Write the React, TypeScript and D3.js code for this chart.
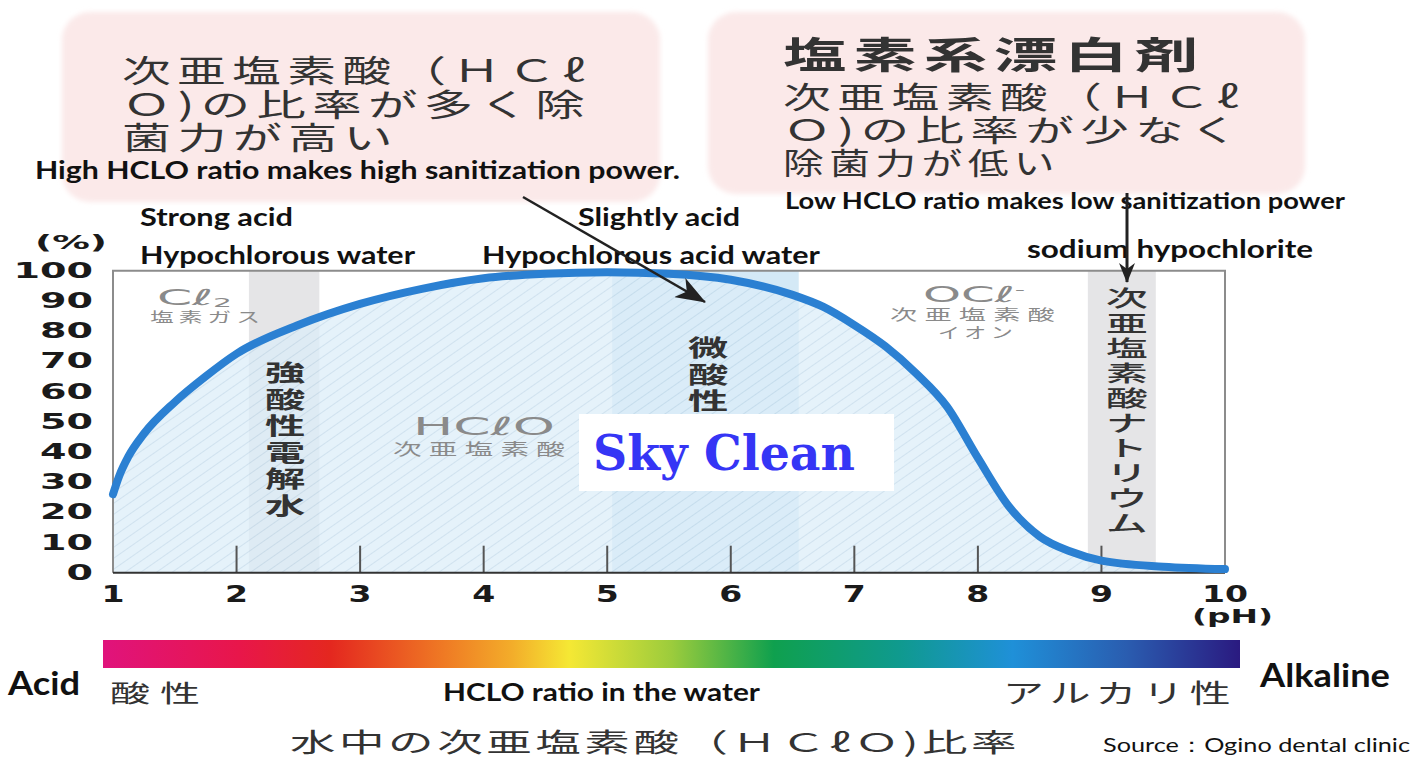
import React from 'react';
import * as d3 from 'd3';

// ---- data ----
const phValues = [1, 1.05, 1.125, 1.25, 1.5, 1.75, 2, 2.5, 3, 3.5, 4, 4.5, 5, 5.5, 6, 6.5, 6.75, 7, 7.25, 7.5, 7.75, 8, 8.25, 8.5, 8.75, 9, 9.5, 10];
const hcloRatio = [26, 32, 38.5, 46, 56.5, 65, 72.5, 82, 89, 94, 97.5, 99, 99.5, 99, 97, 92, 88, 82, 75, 66, 55, 38, 22, 12, 7, 4, 2, 1.2];
const yTicks = [0, 10, 20, 30, 40, 50, 60, 70, 80, 90, 100];
const xTicks = [1, 2, 3, 4, 5, 6, 7, 8, 9, 10];
const innerTicks = [2, 3, 4, 5, 6, 7, 8, 9, 10];
const grayBands = [[2.1, 2.67], [8.89, 9.44]];
const blueBand = [5.04, 6.55];
const spectrumStops = [
  [0, '#e0137c'], [0.12, '#e8164a'], [0.2, '#e4271f'], [0.3, '#ef7a24'], [0.36, '#f3ad2a'],
  [0.41, '#f5e834'], [0.5, '#9ccc3c'], [0.59, '#0fa04e'], [0.7, '#0f9a8e'], [0.8, '#1f90d8'],
  [0.9, '#2a5db0'], [1, '#2a1a80'],
];

const JP = '"Noto Sans CJK JP", "Noto Sans CJK SC", sans-serif';
const EN = 'Lato, "Open Sans", sans-serif';
const NUM = '"DejaVu Sans", Verdana, sans-serif';

const x = d3.scaleLinear().domain([1, 10]).range([113, 1225]);
const y = d3.scaleLinear().domain([0, 100]).range([572.7, 270.7]);

const pts: [number, number][] = phValues.map((p, i) => [p, hcloRatio[i]]);
const lineGen = d3.line<[number, number]>().x(d => x(d[0])).y(d => y(d[1])).curve(d3.curveMonotoneX);
const areaGen = d3.area<[number, number]>().x(d => x(d[0])).y0(y(0)).y1(d => y(d[1])).curve(d3.curveMonotoneX);

function VText({ text, cx, y0, step, size, fill, weight, sx }: any) {
  return (
    <g>
      {Array.from(text).map((ch: any, i: number) => (
        <text key={i} transform={`translate(${cx},${y0 + i * step}) scale(${sx},1)`} textAnchor="middle"
          fontFamily={JP} fontSize={size} fill={fill} fontWeight={weight}>{ch}</text>
      ))}
    </g>
  );
}

function JT({ x: tx, y: ty, len, size, children, weight, ls, fill }: any) {
  return (
    <text x={tx} y={ty} fontFamily={JP} fontSize={size} fontWeight={weight || 400} fill={fill || '#333'}
      letterSpacing={ls || 0} textLength={len} lengthAdjust="spacingAndGlyphs">{children}</text>
  );
}

export default function App() {
  const x0 = x(1), x1 = x(10), yTop = y(100), yBot = y(0);
  return (
    <svg width={1418} height={757} style={{ position: 'absolute', left: 0, top: 0, background: '#fff' }}>
      <defs>
        <pattern id="hatch" width="9" height="9" patternUnits="userSpaceOnUse" patternTransform="rotate(-35)">
          <rect width="9" height="9" fill="#dcedf8" />
          <line x1="0" y1="0" x2="9" y2="0" stroke="#bdd6e8" strokeWidth="1.8" />
        </pattern>
        <linearGradient id="spectrum" x1="0" x2="1" y1="0" y2="0">
          {spectrumStops.map(([o, c], i) => <stop key={i} offset={o as number} stopColor={c as string} />)}
        </linearGradient>
        <filter id="soft" x="-5%" y="-5%" width="110%" height="110%">
          <feGaussianBlur stdDeviation="2.5" />
        </filter>
        <marker id="arrowA" viewBox="0 0 20 16" refX="19" refY="8" markerWidth="20" markerHeight="16" markerUnits="userSpaceOnUse" orient="auto">
          <path d="M0,0 L20,8 L0,16 L6,8 Z" fill="#222" />
        </marker>
        <marker id="arrowB" viewBox="0 0 30 22" refX="29" refY="11" markerWidth="30" markerHeight="22" markerUnits="userSpaceOnUse" orient="auto">
          <path d="M0,0 L30,11 L0,22 L8,11 Z" fill="#222" />
        </marker>
      </defs>

      {/* pink caption boxes */}
      <rect x={62} y={12} width={598} height={190} rx={28} fill="#fbe9e9" filter="url(#soft)" />
      <rect x={708} y={12} width={597} height={182} rx={28} fill="#fbe9e9" filter="url(#soft)" />

      {/* left box text */}
      <JT x={122} y={82} len={469} size={31} ls={4}>次亜塩素酸（ＨＣℓ</JT>
      <JT x={122} y={116} len={469} size={31} ls={4}>Ｏ)の比率が多く除</JT>
      <JT x={122} y={149} len={277} size={31} ls={4}>菌力が高い</JT>
      {/* right box text */}
      <JT x={783} y={69} len={422} size={37} ls={4} weight={700}>塩素系漂白剤</JT>
      <JT x={783} y={108} len={462} size={30} ls={4}>次亜塩素酸（ＨＣℓ</JT>
      <JT x={783} y={141} len={462} size={30} ls={4}>Ｏ)の比率が少なく</JT>
      <JT x={783} y={174} len={277} size={30} ls={4}>除菌力が低い</JT>

      {/* English annotations */}
      <g fontFamily={EN} fontWeight={700} fill="#111">
        <text x={35} y={179} fontSize={24} textLength={645} lengthAdjust="spacingAndGlyphs">High HCLO ratio makes high sanitization power.</text>
        <text x={785} y={209} fontSize={22} textLength={560} lengthAdjust="spacingAndGlyphs">Low HCLO ratio makes low sanitization power</text>
        <text x={140} y={226} fontSize={24} textLength={153} lengthAdjust="spacingAndGlyphs">Strong acid</text>
        <text x={140} y={264} fontSize={24} textLength={275} lengthAdjust="spacingAndGlyphs">Hypochlorous water</text>
        <text x={578} y={226} fontSize={24} textLength={162} lengthAdjust="spacingAndGlyphs">Slightly acid</text>
        <text x={482} y={264} fontSize={24} textLength={338} lengthAdjust="spacingAndGlyphs">Hypochlorous acid water</text>
        <text x={1027} y={258} fontSize={24} textLength={286} lengthAdjust="spacingAndGlyphs">sodium hypochlorite</text>
      </g>

      {/* plot background & bands */}
      <rect x={x0} y={yTop} width={x1 - x0} height={yBot - yTop} fill="#fff" />
      {grayBands.map((b, i) => (
        <rect key={i} x={x(b[0])} y={yTop} width={x(b[1]) - x(b[0])} height={yBot - yTop} fill="#e5e5e7" />
      ))}
      <rect x={x(blueBand[0])} y={yTop} width={x(blueBand[1]) - x(blueBand[0])} height={yBot - yTop} fill="#d4e9f6" />

      {/* area under curve */}
      <path d={areaGen(pts) as string} fill="url(#hatch)" opacity={0.75} />

      {/* inner ticks */}
      {innerTicks.map(t => (
        <line key={t} x1={x(t)} x2={x(t)} y1={yBot} y2={yBot - 27} stroke="#555" strokeWidth={2} />
      ))}

      {/* frame */}
      <path d={`M${x0},${yBot} L${x0},${yTop} L${x1},${yTop} L${x1},${yBot}`} fill="none" stroke="#8c8c8c" strokeWidth={2} />
      <line x1={x0} x2={x1} y1={yBot} y2={yBot} stroke="#333" strokeWidth={2} />

      {/* in-plot labels */}
      <g fill="#8a8a8a" fontFamily={NUM}>
        <text x={157} y={305} fontSize={22} textLength={75} lengthAdjust="spacingAndGlyphs">Cℓ<tspan fontSize={13} dy={2}>2</tspan></text>
        <text x={923} y={302} fontSize={22} textLength={102} lengthAdjust="spacingAndGlyphs">OCℓ<tspan fontSize={13} dy={-8}>-</tspan></text>
        <text x={413} y={435} fontSize={25} textLength={142} lengthAdjust="spacingAndGlyphs">HCℓO</text>
      </g>
      <JT x={150} y={322} len={115} size={14} ls={3} fill="#8a8a8a">塩素ガス</JT>
      <JT x={393} y={455} len={179} size={16} ls={4} fill="#8a8a8a">次亜塩素酸</JT>
      <JT x={890} y={320} len={172} size={15} ls={4} fill="#8a8a8a">次亜塩素酸</JT>
      <JT x={938} y={338} len={79} size={15} ls={3} fill="#8a8a8a">イオン</JT>

      <VText text="強酸性電解水" cx={285} y0={381} step={26.6} size={23} sx={1.75} fill="#333" weight={700} />
      <VText text="微酸性" cx={708} y0={356} step={26.5} size={23} sx={1.75} fill="#333" weight={700} />
      <VText text="次亜塩素酸ナトリウム" cx={1127} y0={306} step={25} size={22} sx={1.9} fill="#333" weight={500} />

      {/* curve */}
      <path d={lineGen(pts) as string} fill="none" stroke="#2b80d2" strokeWidth={8} strokeLinecap="round" />

      {/* watermark */}
      <rect x={579} y={414} width={315} height={77} fill="#fff" />
      <text x={593} y={470} fontFamily='"DejaVu Serif", "Liberation Serif", serif' fontWeight={900} fontSize={48} fill="#3535f5" textLength={262} lengthAdjust="spacingAndGlyphs">Sky Clean</text>

      {/* arrows */}
      <line x1={523} y1={197} x2={705} y2={302} stroke="#222" strokeWidth={2.5} markerEnd="url(#arrowB)" />
      <line x1={1127} y1={193} x2={1127} y2={282} stroke="#222" strokeWidth={3} markerEnd="url(#arrowA)" />

      {/* axes labels */}
      <g fontFamily={NUM} fontWeight={700} fill="#1a1a1a">
        {yTicks.map(t => (
          <text key={t} x={93} y={y(t) + 7} fontSize={21} textAnchor="end" textLength={String(t).length * 26.5} lengthAdjust="spacingAndGlyphs">{t}</text>
        ))}
        {xTicks.map(t => (
          <text key={t} x={x(t)} y={602} fontSize={23} textAnchor="middle" textLength={String(t).length * 23} lengthAdjust="spacingAndGlyphs">{t}</text>
        ))}
        <text x={35} y={249} fontSize={20} textLength={72} lengthAdjust="spacingAndGlyphs">(%)</text>
        <text x={1192} y={623} fontSize={20} textLength={81} lengthAdjust="spacingAndGlyphs">(pH)</text>
      </g>

      {/* spectrum bar */}
      <rect x={103} y={640} width={1137} height={28} fill="url(#spectrum)" />

      <g fontFamily={EN} fontWeight={700} fill="#111">
        <text x={8} y={695} fontSize={32} textLength={72} lengthAdjust="spacingAndGlyphs">Acid</text>
        <text x={1260} y={687} fontSize={32} textLength={130} lengthAdjust="spacingAndGlyphs">Alkaline</text>
        <text x={443} y={701} fontSize={24} textLength={317} lengthAdjust="spacingAndGlyphs">HCLO ratio in the water</text>
      </g>
      <JT x={110} y={702} len={100} size={24} ls={6}>酸性</JT>
      <JT x={1003} y={703} len={234} size={26} ls={4}>アルカリ性</JT>
      <JT x={290} y={752} len={730} size={26} ls={2}>水中の次亜塩素酸（ＨＣℓＯ)比率</JT>
      <text x={1103} y={752} fontFamily={EN} fontSize={20} fill="#111" textLength={307} lengthAdjust="spacingAndGlyphs">Source：Ogino dental clinic</text>
    </svg>
  );
}
